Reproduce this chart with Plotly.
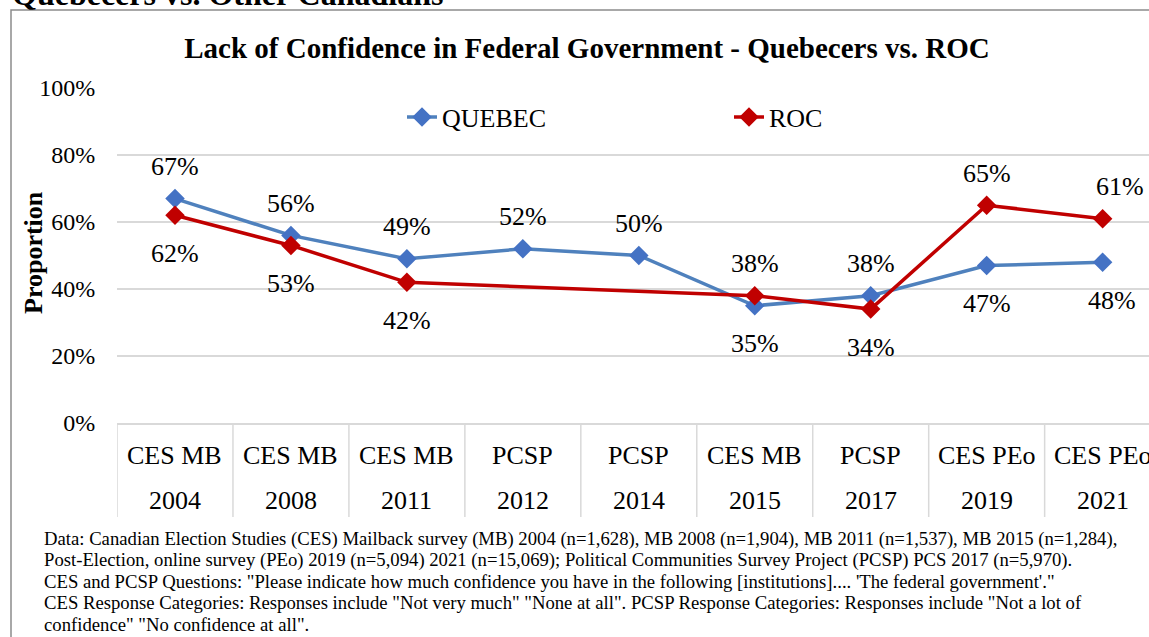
import plotly.graph_objects as go

# Survey waves (two-row category labels) and the share lacking confidence
sources = ["CES MB", "CES MB", "CES MB", "PCSP", "PCSP", "CES MB", "PCSP", "CES PEo", "CES PEo"]
years = ["2004", "2008", "2011", "2012", "2014", "2015", "2017", "2019", "2021"]
quebec = [67, 56, 49, 52, 50, 35, 38, 47, 48]
roc = [62, 53, 42, None, None, 38, 34, 65, 61]
y_ticks = [0, 20, 40, 60, 80, 100]
y_ticklabels = ["0%", "20%", "40%", "60%", "80%", "100%"]

# where each value label sits relative to its marker
quebec_label_side = ["up", "up", "up", "up", "up", "down", "up", "down", "down"]
roc_label_side = ["down", "down", "down", None, None, "up", "down", "up", "up"]
quebec_label_dx = [0, 0, 0, 0, 0, 0, 0, 0, 9]
roc_label_dx = [0, 0, 0, 0, 0, 0, 0, 0, 17]

footnote_lines = [
    "Data: Canadian Election Studies (CES) Mailback survey (MB) 2004 (n=1,628), MB 2008 (n=1,904), MB 2011 (n=1,537), MB 2015 (n=1,284),",
    "Post-Election, online survey (PEo) 2019 (n=5,094) 2021 (n=15,069); Political Communities Survey Project (PCSP) PCS 2017 (n=5,970).",
    "CES and PCSP Questions: \"Please indicate how much confidence you have in the following [institutions].... 'The federal government'.\"",
    "CES Response Categories: Responses include \"Not very much\" \"None at all\". PCSP Response Categories: Responses include \"Not a lot of",
    "confidence\" \"No confidence at all\".",
]

W, H = 1149, 637
ML, MR, MT, MB = 117, 0, 88, 214
PW, PH = W - ML - MR, H - MT - MB
SERIF = "Liberation Serif, Times New Roman, serif"
GRID = "#d9d9d9"
BLUE_LINE, BLUE_MARK = "#4F81BD", "#4472C4"
RED = "#C00000"


def px_x(px):
    return (px - ML) / PW


def px_y(py):
    return (H - MB - py) / PH


fig = go.Figure()
fig.add_trace(go.Scatter(
    x=years, y=quebec, name="QUEBEC", mode="lines+markers",
    line=dict(color=BLUE_LINE, width=3.5),
    marker=dict(symbol="diamond", size=15, color=BLUE_MARK),
))
fig.add_trace(go.Scatter(
    x=years, y=roc, name="ROC", mode="lines+markers", connectgaps=True,
    line=dict(color=RED, width=3.5),
    marker=dict(symbol="diamond", size=15, color=RED),
))

annotations = []
# value labels (category axis positions addressed by index)
for values, sides, dxs in ((quebec, quebec_label_side, quebec_label_dx),
                           (roc, roc_label_side, roc_label_dx)):
    for i, (v, side, dx) in enumerate(zip(values, sides, dxs)):
        if v is None:
            continue
        annotations.append(dict(
            x=i, y=v, xref="x", yref="y", text=f"{v}%", showarrow=False,
            xshift=dx, yshift=32 if side == "up" else -38,
            font=dict(family=SERIF, size=26, color="black"),
        ))

# two-row category labels under the axis
for i, (src, yr) in enumerate(zip(sources, years)):
    annotations.append(dict(x=i, y=px_y(455), xref="x", yref="paper", text=src,
                            xanchor="center", yanchor="middle", showarrow=False,
                            font=dict(family=SERIF, size=26, color="black")))
    annotations.append(dict(x=i, y=px_y(500), xref="x", yref="paper", text=yr,
                            xanchor="center", yanchor="middle", showarrow=False,
                            font=dict(family=SERIF, size=26, color="black")))

# axis title
annotations.append(dict(x=px_x(33), y=px_y(253), xref="paper", yref="paper",
                        xanchor="center", yanchor="middle",
                        text="<b>Proportion</b>", textangle=-90, showarrow=False,
                        font=dict(family=SERIF, size=26, color="black")))

# heading of the page section, partly above the frame
annotations.append(dict(x=px_x(10), y=px_y(-6), xref="paper", yref="paper",
                        xanchor="left", yanchor="middle",
                        text="<b>Quebecers vs. Other Canadians</b>", showarrow=False,
                        font=dict(family=SERIF, size=32, color="black")))

# source note, one annotation per line
for k, line in enumerate(footnote_lines):
    annotations.append(dict(x=px_x(42), y=px_y(539 + 21.3 * k), xref="paper", yref="paper",
                            xanchor="left", yanchor="middle", align="left",
                            text=line, showarrow=False,
                            font=dict(family=SERIF, size=18.7, color="black")))

shapes = []
# dividers between category columns
for i in range(len(years)):
    shapes.append(dict(type="line", xref="x", yref="paper",
                       x0=i - 0.5, x1=i - 0.5, y0=px_y(423), y1=px_y(517),
                       line=dict(color=GRID, width=1.5)))
# outer frame
shapes.append(dict(type="rect", xref="paper", yref="paper",
                   x0=px_x(11), x1=px_x(1170), y0=px_y(10), y1=px_y(660),
                   line=dict(color="#8c8c8c", width=1.5), layer="below"))

fig.update_layout(
    width=W, height=H,
    margin=dict(l=ML, r=MR, t=MT, b=MB),
    paper_bgcolor="white", plot_bgcolor="white",
    title=dict(text="<b>Lack of Confidence in Federal Government - Quebecers vs. ROC</b>",
               x=587 / W, xref="container", xanchor="center",
               y=1 - 48 / H, yref="container", yanchor="middle",
               font=dict(family=SERIF, size=29, color="black")),
    legend=dict(orientation="h", x=px_x(402), y=px_y(117), xanchor="left", yanchor="middle",
                entrywidth=282, entrywidthmode="pixels", bgcolor="rgba(0,0,0,0)",
                font=dict(family=SERIF, size=26, color="black")),
    xaxis=dict(type="category", range=[-0.5, 8.4], showticklabels=False, ticks="",
               showgrid=False, showline=True, linecolor=GRID, linewidth=1.5,
               zeroline=False, fixedrange=True),
    yaxis=dict(range=[0, 100], tickvals=y_ticks, ticktext=y_ticklabels,
               ticks="outside", ticklen=16, tickcolor="rgba(0,0,0,0)",
               showgrid=True, gridcolor=GRID, gridwidth=1.5, zeroline=False,
               showline=False, tickfont=dict(family=SERIF, size=24, color="black"),
               fixedrange=True),
    annotations=annotations,
    shapes=shapes,
    showlegend=True,
)

fig.write_html("out.html", config={"displayModeBar": False})
